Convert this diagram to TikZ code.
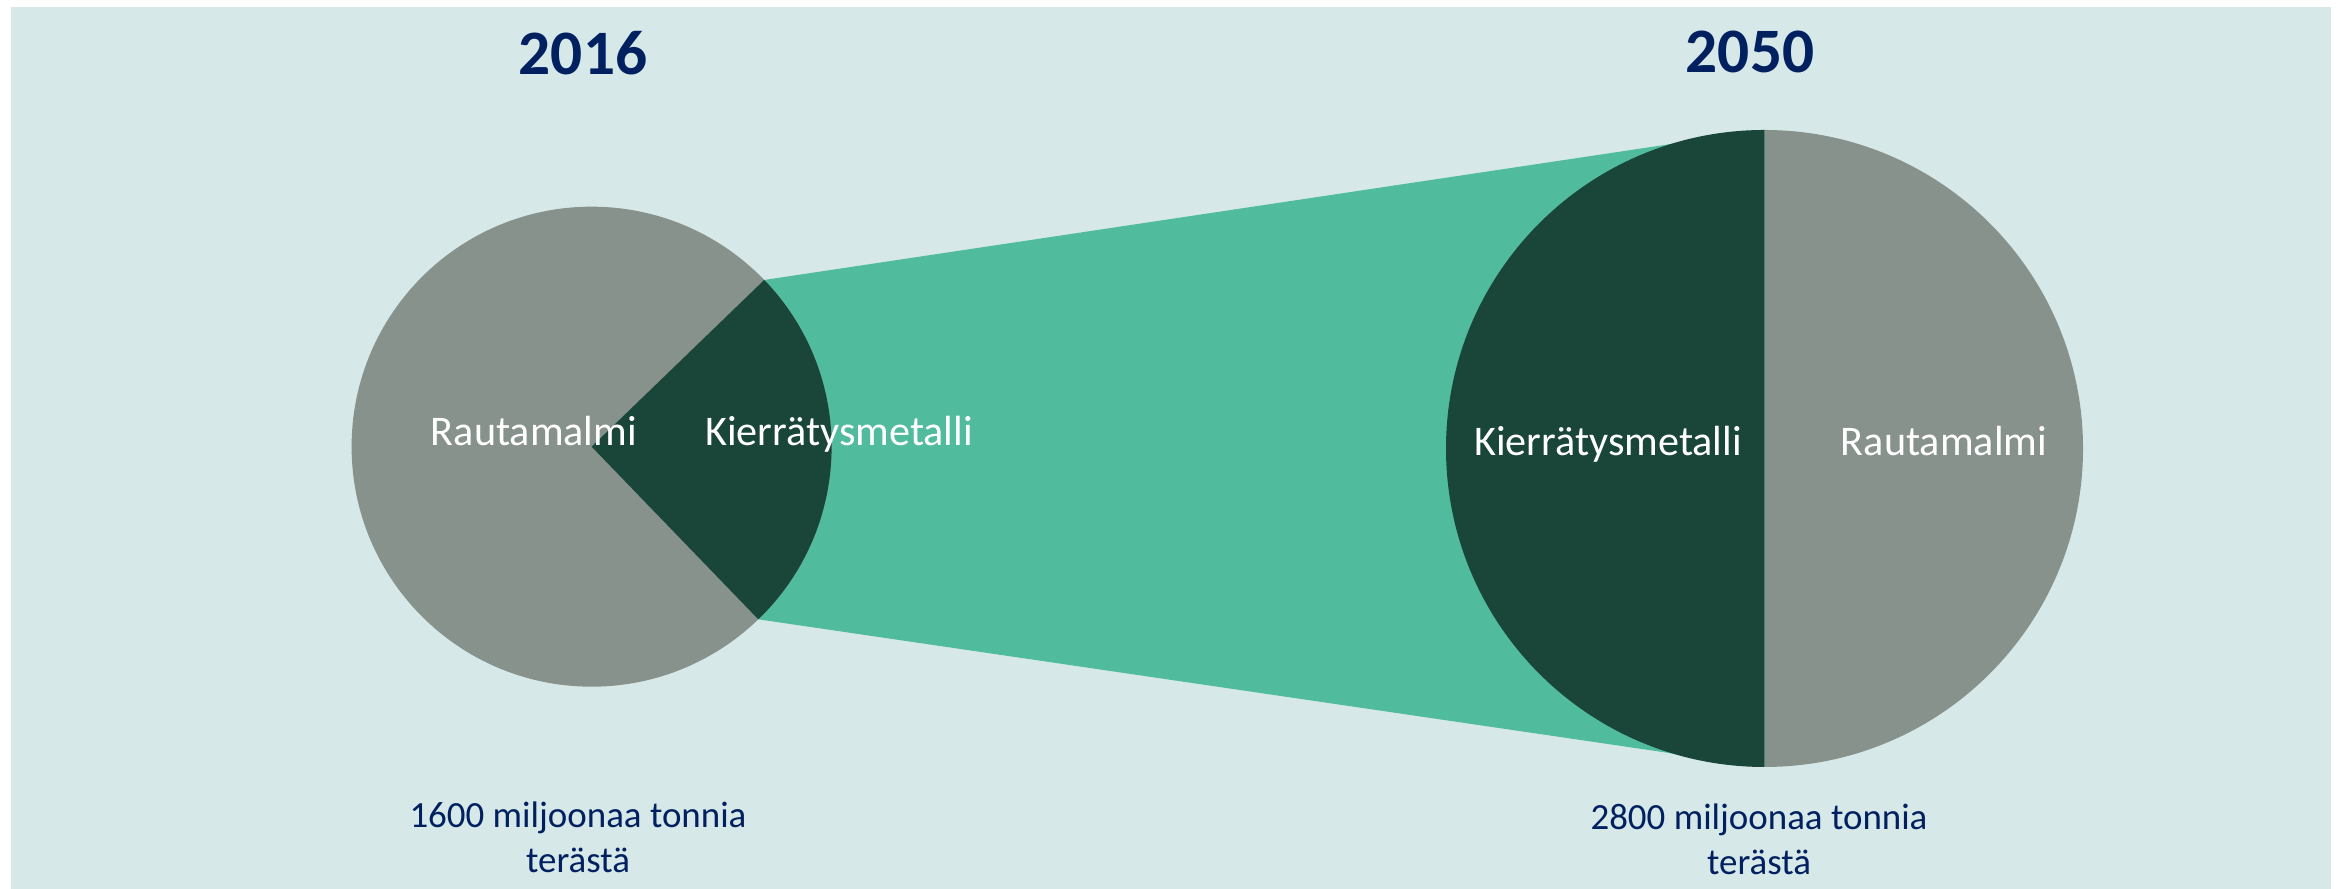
\documentclass[tikz,border=0pt]{standalone}
\usepackage{fontspec}
\setmainfont{Carlito}
\definecolor{bgcol}{RGB}{214,232,232}
\definecolor{oregray}{RGB}{135,146,140}
\definecolor{scrapgreen}{RGB}{26,69,57}
\definecolor{flowteal}{RGB}{80,187,157}
\definecolor{navy}{RGB}{0,32,96}
\begin{document}
\begin{tikzpicture}[x=0.01cm,y=0.01cm,
		year/.style={font=\fontsize{18}{22}\selectfont\bfseries,text=navy,inner sep=0pt,anchor=base},
		part/.style={font=\fontsize{12}{14}\selectfont,text=white,inner sep=0pt,anchor=base},
		total/.style={font=\fontsize{10.5}{12.8}\selectfont,text=navy,inner sep=0pt,align=center,anchor=base}]
		\def\rsmall{240}
		\def\rbig{318.5}
		\useasboundingbox (0,0) rectangle (2346,889);
		% background
			\fill [bgcol] (11,0) rectangle (2331,882);
		% centres and rims
			\coordinate (c2016) at (591.6,442.3);
			\coordinate (c2050) at (1764.5,440.5);
			\path (c2016) ++(44:\rsmall) coordinate (up2016);
			\path (c2016) ++(-46:\rsmall) coordinate (lo2016);
			\path (c2050) ++(90:\rbig) coordinate (up2050);
			\path (c2050) ++(-90:\rbig) coordinate (lo2050);
		% flow between the two pies
			\fill [flowteal] (up2016) -- (up2050) -- (lo2050) -- (lo2016) -- cycle;
		% pie 2016
			\fill [oregray] (c2016) circle (\rsmall);
			\fill [scrapgreen] (c2016) -- (lo2016) arc (-46:44:\rsmall) -- cycle;
		% pie 2050
			\fill [scrapgreen] (up2050) arc (90:270:\rbig) -- cycle;
			\fill [oregray] (up2050) arc (90:-90:\rbig) -- cycle;
		% years
			\node (y2016) [year] at (583,814) {2016};
			\node (y2050) [year] at (1750,816) {2050};
		% labels
			\node (ore2016) [part] at (534,443) {Rautamalmi};
			\node (scrap2016) [part] at (839,443) {Kierrätysmetalli};
			\node (scrap2050) [part] at (1608,433) {Kierrätysmetalli};
			\node (ore2050) [part] at (1944,433) {Rautamalmi};
		% totals
			\node (tot2016) [total] at (578,16) {1600 miljoonaa tonnia\\terästä};
			\node (tot2050) [total] at (1759,14) {2800 miljoonaa tonnia\\terästä};
\end{tikzpicture}
\end{document}
